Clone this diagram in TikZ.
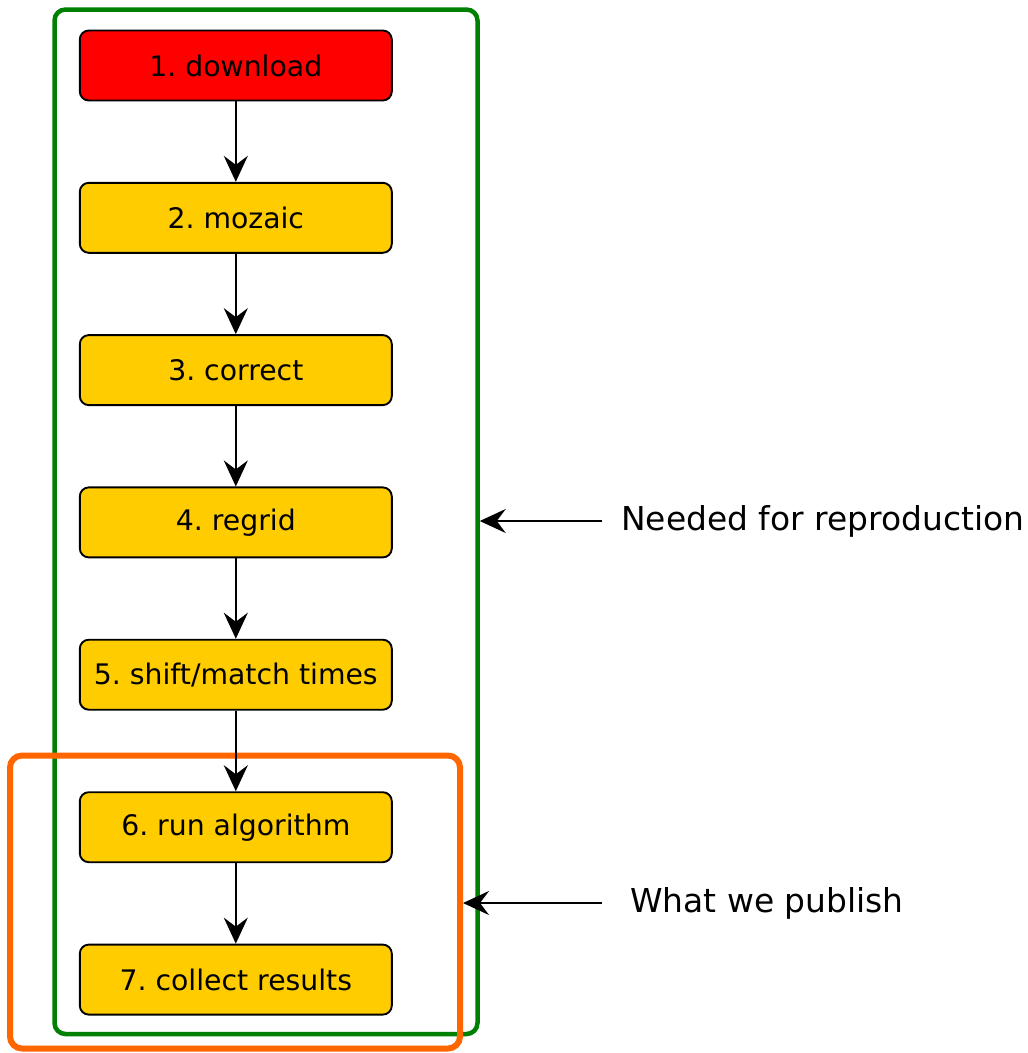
\documentclass[tikz,border=0pt]{standalone}
\usepackage{fontspec}
\setmainfont{DejaVu Sans}
\usetikzlibrary{arrows.meta}
\definecolor{boxred}{HTML}{FF0000}
\definecolor{boxyellow}{HTML}{FFCC00}
\definecolor{framegreen}{HTML}{008000}
\definecolor{frameorange}{HTML}{FF6600}
\frenchspacing
\begin{document}
\begin{tikzpicture}[x=1pt,y=-1pt,
  stepbox/.style={draw=black, line width=1.9pt, rounded corners=9pt,
    minimum width=312pt, minimum height=70pt, inner sep=0pt,
    font=\fontsize{28.3}{33}\selectfont, fill=boxyellow},
  arr/.style={-{Stealth[length=26pt,width=24pt,inset=9pt]}, line width=2.2pt, draw=black},
  lbl/.style={font=\fontsize{32.9}{39}\selectfont, inner sep=0pt, anchor=west},
  frame/.style={inner sep=0pt}]
\useasboundingbox (0,0) rectangle (1028,1053);
\node[frame, draw=framegreen, line width=4.5pt, rounded corners=11pt,
  minimum width=423pt, minimum height=1024.5pt] (green) at (266,521.75) {};
\node[frame, draw=frameorange, line width=6pt, rounded corners=12pt,
  minimum width=450pt, minimum height=293pt] (pub) at (235,902) {};
\node[stepbox, fill=boxred] (b1) at (235.8,65.5) {1. download};
\node[stepbox] (b2) at (235.8,217.8) {2. mozaic};
\node[stepbox] (b3) at (235.8,370.1) {3. correct};
\node[stepbox] (b4) at (235.8,522.4) {4. regrid};
\node[stepbox] (b5) at (235.8,674.7) {5. shift/match times};
\node[stepbox] (b6) at (235.8,827.2) {6. run algorithm};
\node[stepbox] (b7) at (235.8,979.6) {7. collect results};
\draw[arr] (b1) -- (b2);
\draw[arr] (b2) -- (b3);
\draw[arr] (b3) -- (b4);
\draw[arr] (b4) -- (b5);
\draw[arr] (b5) -- (b6);
\draw[arr] (b6) -- (b7);
\node[lbl] (need) at (621,521) {Needed for reproduction};
\node[lbl] (what) at (630,903) {What we publish};
\coordinate (needtail) at (602,521);
\coordinate (whattail) at (602,903);
\draw[arr] (needtail) -- (needtail -| green.east);
\draw[arr] (whattail) -- (whattail -| pub.east);
\end{tikzpicture}
\end{document}
